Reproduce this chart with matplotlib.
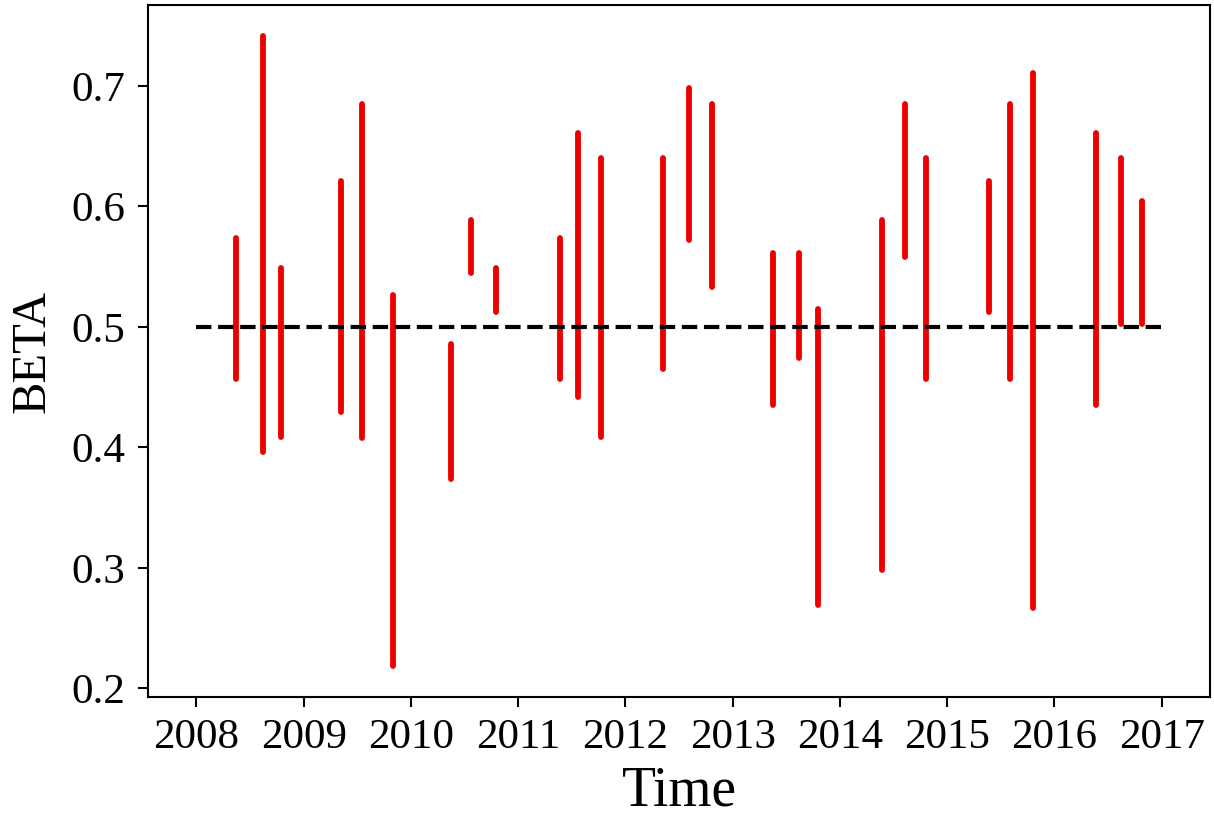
import matplotlib
matplotlib.use("Agg")
import matplotlib.pyplot as plt

# event times (decimal years) and BETA interval ends
times = [2008.37, 2008.62, 2008.79, 2009.35, 2009.54, 2009.83,
         2010.37, 2010.56, 2010.79, 2011.39, 2011.56, 2011.77,
         2012.35, 2012.59, 2012.81, 2013.38, 2013.62, 2013.80,
         2014.39, 2014.61, 2014.80, 2015.39, 2015.59, 2015.80,
         2016.39, 2016.62, 2016.82]
beta_low = [0.457, 0.396, 0.409, 0.429, 0.408, 0.219,
            0.374, 0.545, 0.512, 0.457, 0.442, 0.409,
            0.465, 0.572, 0.533, 0.435, 0.474, 0.269,
            0.298, 0.558, 0.457, 0.512, 0.457, 0.267,
            0.435, 0.502, 0.502]
beta_high = [0.574, 0.741, 0.549, 0.621, 0.685, 0.526,
             0.486, 0.589, 0.549, 0.574, 0.661, 0.640,
             0.640, 0.698, 0.685, 0.561, 0.561, 0.515,
             0.589, 0.685, 0.640, 0.621, 0.685, 0.711,
             0.661, 0.640, 0.604]
ref_span = [2008, 2017]
ref_level = 0.5

plt.rcParams['font.family'] = ['Liberation Serif', 'DejaVu Serif']

fig = plt.figure(figsize=(12.14, 8.19), dpi=100)
ax = fig.add_axes([0.122, 0.149, 0.8747, 0.845])

ax.vlines(times, beta_low, beta_high, colors='#ee0000', linewidth=4.2,
          capstyle='round')
ax.plot(ref_span, [ref_level, ref_level], 'k--', linewidth=3)

ax.set_yticks([0.2, 0.3, 0.4, 0.5, 0.6, 0.7])
ax.set_xticks(range(2008, 2018))
ax.tick_params(labelsize=31, length=7.5, width=1.5)
ax.tick_params(axis='x', pad=8)
ax.tick_params(axis='y', pad=9)
for s in ax.spines.values():
    s.set_linewidth(1.5)

ax.set_xlabel('Time', fontsize=40, labelpad=6)
ax.set_ylabel('BETA', fontsize=35, labelpad=12)

fig.savefig('out.png', dpi=100)
